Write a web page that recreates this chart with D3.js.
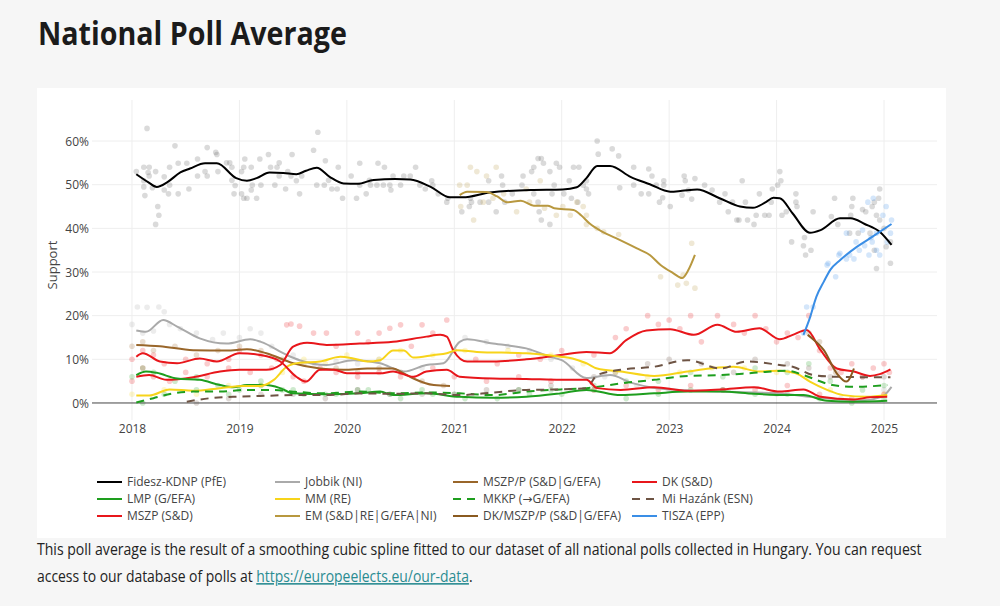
<!DOCTYPE html>
<html><head><meta charset="utf-8">
<script src="https://cdn.jsdelivr.net/npm/d3@7"></script>
<style>
html,body{margin:0;padding:0;background:#f6f6f6;}
svg{display:block;}
</style></head>
<body>
<svg id="chart" width="1000" height="606"></svg>
<script>
// ---------- DATA ----------
const yTicks = [0, 10, 20, 30, 40, 50, 60];
const xTicks = [2018, 2019, 2020, 2021, 2022, 2023, 2024, 2025];

const fideszLine = [[2018.04,52.4],[2018.15,50.6],[2018.23,49.5],[2018.33,50.6],[2018.45,52.8],[2018.54,53.7],[2018.68,54.9],[2018.79,54.9],[2018.97,51.5],[2019.07,50.9],[2019.16,51.5],[2019.28,52.8],[2019.41,52.7],[2019.53,52.4],[2019.62,53.2],[2019.72,53.9],[2019.84,51.8],[2019.97,50.3],[2020.1,50.2],[2020.25,51.1],[2020.45,51.3],[2020.59,51.2],[2020.78,49.5],[2020.96,47.1],[2021.08,47.1],[2021.33,48.2],[2021.71,48.8],[2022.01,48.9],[2022.14,49.4],[2022.23,51.5],[2022.33,54.3],[2022.45,54.3],[2022.64,51.8],[2022.82,50.1],[2023.01,48.4],[2023.12,48.6],[2023.26,48.9],[2023.47,46.9],[2023.66,45.0],[2023.78,44.7],[2023.9,46.0],[2023.97,47.0],[2024.03,46.9],[2024.15,43.4],[2024.31,39.0],[2024.41,39.6],[2024.59,42.3],[2024.69,42.3],[2024.82,41.0],[2024.96,39.2],[2025.07,36.2]];
const jobbikLine = [[2018.04,16.6],[2018.13,16.3],[2018.29,19.0],[2018.42,17.5],[2018.63,14.8],[2018.88,13.6],[2019.1,14.6],[2019.2,14.0],[2019.44,11.0],[2019.56,9.8],[2019.81,8.7],[2020.06,9.8],[2020.31,9.1],[2020.53,7.2],[2020.74,8.7],[2020.9,9.1],[2021.05,14.0],[2021.12,14.6],[2021.36,13.6],[2021.67,12.5],[2021.89,10.6],[2022.0,9.8],[2022.23,5.7],[2022.45,6.4],[2022.65,4.6],[2022.85,3.5],[2023.1,3.0],[2023.5,2.6],[2024.0,2.2],[2024.4,1.2],[2024.8,0.6],[2024.98,1.4],[2025.07,3.7]];
const mszpPLine = [[2018.04,13.3],[2018.26,13.0],[2018.57,12.1],[2018.88,12.0],[2019.07,12.3],[2019.25,11.4],[2019.5,9.1],[2019.75,7.9],[2019.97,7.6],[2020.19,7.9],[2020.43,7.9],[2020.5,7.2],[2020.62,5.6],[2020.81,4.1],[2020.96,3.9]];
const dkLine = [[2018.04,6.0],[2018.16,6.4],[2018.32,5.3],[2018.57,5.9],[2018.82,7.2],[2019.0,7.6],[2019.25,7.6],[2019.38,8.7],[2019.5,12.9],[2019.63,13.8],[2019.81,13.3],[2020.12,13.6],[2020.43,14.0],[2020.74,15.2],[2020.87,15.6],[2020.93,15.2],[2020.99,12.1],[2021.12,9.5],[2021.36,9.5],[2021.67,10.0],[2021.99,11.0],[2022.23,11.7],[2022.45,11.4],[2022.6,14.4],[2022.79,16.6],[2023.01,16.9],[2023.23,15.6],[2023.45,17.9],[2023.63,16.3],[2023.84,17.1],[2024.03,14.6],[2024.15,15.6],[2024.28,16.7],[2024.41,12.1],[2024.56,7.9],[2024.72,7.2],[2024.87,6.2],[2024.96,6.6],[2025.06,7.7]];
const lmpLine = [[2018.04,6.4],[2018.13,7.2],[2018.23,6.9],[2018.42,5.6],[2018.63,5.3],[2018.82,4.1],[2018.94,3.6],[2019.07,4.1],[2019.25,4.1],[2019.38,3.4],[2019.5,2.2],[2019.81,2.0],[2020.12,2.2],[2020.31,2.6],[2020.43,1.8],[2020.74,2.2],[2021.05,1.4],[2021.36,1.2],[2021.67,1.4],[2021.99,2.2],[2022.23,3.0],[2022.55,1.8],[2022.86,2.2],[2023.17,2.6],[2023.48,2.6],[2023.79,2.1],[2024.1,1.8],[2024.25,1.8],[2024.47,0.5],[2024.72,0.3],[2025.03,0.5]];
const mmLine = [[2018.04,1.7],[2018.16,1.7],[2018.35,3.1],[2018.57,2.8],[2018.82,3.4],[2019.04,3.9],[2019.19,3.9],[2019.32,5.3],[2019.44,8.3],[2019.56,9.2],[2019.75,9.5],[2019.94,10.6],[2020.06,10.2],[2020.19,9.5],[2020.31,9.8],[2020.43,12.0],[2020.53,12.0],[2020.62,10.4],[2020.81,11.0],[2020.93,11.4],[2021.02,12.1],[2021.21,11.7],[2021.67,11.4],[2021.99,10.6],[2022.1,10.2],[2022.23,9.1],[2022.33,7.9],[2022.55,7.2],[2022.86,6.2],[2023.17,7.2],[2023.38,7.9],[2023.6,8.3],[2023.84,7.2],[2024.03,7.4],[2024.18,6.8],[2024.31,4.9],[2024.47,3.0],[2024.62,1.8],[2024.84,1.4],[2025.03,1.8]];
const mkkpLine = [[2018.04,0.1],[2018.2,1.1],[2018.38,2.2],[2018.57,2.6],[2018.82,2.6],[2019.07,3.0],[2019.32,3.0],[2019.5,2.6],[2019.81,2.2],[2020.12,2.6],[2020.43,2.2],[2020.74,2.4],[2021.05,2.2],[2021.36,1.8],[2021.67,2.6],[2021.99,3.1],[2022.23,3.4],[2022.39,3.9],[2022.55,4.5],[2022.86,5.3],[2023.17,6.2],[2023.48,6.4],[2023.79,6.9],[2024.1,7.4],[2024.25,6.4],[2024.52,4.1],[2024.72,3.7],[2025.03,4.1]];
const miHazankLine = [[2018.51,0.3],[2018.73,1.1],[2018.94,1.4],[2019.19,1.6],[2019.5,1.8],[2019.81,1.8],[2020.12,2.2],[2020.43,2.1],[2020.74,2.2],[2021.05,1.8],[2021.36,2.4],[2021.67,3.0],[2021.99,3.1],[2022.23,3.4],[2022.33,6.4],[2022.55,7.6],[2022.86,8.3],[2023.17,9.8],[2023.48,7.9],[2023.72,9.5],[2024.03,8.7],[2024.15,8.3],[2024.34,6.4],[2024.56,6.0],[2024.87,5.9],[2025.06,5.9]];
const mszpLine = [[2018.04,10.6],[2018.1,11.4],[2018.26,9.5],[2018.42,9.1],[2018.63,10.2],[2018.79,9.5],[2019.0,11.4],[2019.19,11.0],[2019.38,9.5],[2019.53,6.0],[2019.62,4.9],[2019.75,7.6],[2019.88,7.6],[2020.0,6.8],[2020.31,6.8],[2020.43,7.2],[2020.62,6.0],[2020.74,7.2],[2020.93,7.6],[2021.05,6.0],[2021.36,5.6],[2021.67,5.5],[2021.99,5.3],[2022.23,5.3],[2022.33,3.4],[2022.55,3.0],[2022.86,3.6],[2023.17,2.8],[2023.48,3.1],[2023.79,3.6],[2024.03,2.6],[2024.25,3.1],[2024.41,1.4],[2024.72,0.8],[2024.87,1.3],[2025.03,1.4]];
const emLine = [[2021.05,47.6],[2021.12,48.4],[2021.3,48.3],[2021.4,47.3],[2021.49,46.0],[2021.62,46.3],[2021.74,45.2],[2021.87,45.2],[2021.93,44.6],[2022.11,44.2],[2022.18,43.0],[2022.26,41.1],[2022.38,39.2],[2022.5,37.8],[2022.7,35.4],[2022.82,33.9],[2022.92,31.6],[2023.04,29.7],[2023.12,28.6],[2023.18,30.5],[2023.24,33.9]];
const dkMszpPLine = [[2024.29,15.6],[2024.31,15.2],[2024.44,12.1],[2024.56,6.8],[2024.65,4.9],[2024.72,7.9]];
const tiszaLine = [[2024.25,15.6],[2024.31,19.5],[2024.37,24.3],[2024.44,27.8],[2024.5,30.5],[2024.59,32.7],[2024.75,35.8],[2024.9,38.2],[2025.07,41.0]];

// individual polls
const fideszPolls = [[2018.14,62.9],[2018.04,53.0],[2018.11,54.0],[2018.16,54.0],[2018.15,52.8],[2018.16,52.0],[2018.11,50.9],[2018.11,49.5],[2018.19,49.3],[2018.12,47.5],[2018.22,53.0],[2018.24,45.0],[2018.25,43.0],[2018.22,40.9],[2018.30,51.8],[2018.30,48.8],[2018.34,47.9],[2018.35,54.0],[2018.35,49.9],[2018.40,58.9],[2018.43,54.9],[2018.43,47.9],[2018.51,54.9],[2018.53,49.0],[2018.61,55.9],[2018.61,52.0],[2018.68,53.0],[2018.70,52.0],[2018.70,58.5],[2018.78,57.4],[2018.79,56.9],[2018.80,53.0],[2018.88,55.0],[2018.91,55.0],[2018.93,54.0],[2018.93,51.0],[2018.96,49.8],[2018.95,47.9],[2019.02,53.0],[2019.04,54.0],[2019.05,55.9],[2019.02,47.9],[2019.04,46.9],[2019.07,46.9],[2019.11,54.0],[2019.11,48.8],[2019.12,49.9],[2019.16,46.9],[2019.19,55.9],[2019.20,49.9],[2019.27,56.9],[2019.29,54.0],[2019.33,49.9],[2019.35,54.0],[2019.37,55.0],[2019.37,52.0],[2019.43,49.0],[2019.45,53.0],[2019.48,52.0],[2019.49,56.9],[2019.53,50.9],[2019.56,47.9],[2019.58,52.0],[2019.69,57.9],[2019.73,62.0],[2019.72,49.9],[2019.79,49.9],[2019.80,55.5],[2019.83,51.0],[2019.86,49.0],[2019.91,49.0],[2019.92,54.0],[2019.96,46.9],[2020.04,52.0],[2020.09,46.9],[2020.12,49.9],[2020.12,54.9],[2020.18,47.9],[2020.21,51.0],[2020.22,49.9],[2020.29,54.9],[2020.35,54.0],[2020.28,49.9],[2020.34,49.9],[2020.40,49.9],[2020.41,48.8],[2020.43,52.0],[2020.50,49.9],[2020.53,52.0],[2020.59,52.0],[2020.64,54.0],[2020.68,49.9],[2020.73,49.0],[2020.79,50.9],[2020.80,49.9],[2020.85,47.9],[2020.93,46.0],[2020.94,46.9],[2021.15,46.9],[2021.16,46.0],[2021.07,43.8],[2021.14,45.0],[2021.24,46.0],[2021.32,50.9],[2021.32,46.0],[2021.44,52.0],[2021.45,49.9],[2021.39,43.8],[2021.47,46.0],[2021.54,47.9],[2021.63,49.9],[2021.64,52.0],[2021.72,53.0],[2021.74,54.0],[2021.74,47.9],[2021.78,56.0],[2021.81,56.0],[2021.83,54.9],[2021.78,46.0],[2021.79,43.8],[2021.81,41.9],[2021.89,53.0],[2021.91,47.9],[2021.95,54.9],[2021.98,54.0],[2021.93,49.9],[2021.89,40.9],[2022.02,47.9],[2022.07,50.9],[2022.11,54.0],[2022.16,54.0],[2022.09,46.9],[2022.20,49.9],[2022.23,49.0],[2022.23,50.9],[2022.25,47.9],[2022.15,46.0],[2022.33,60.0],[2022.34,57.0],[2022.47,58.2],[2022.53,56.6],[2022.54,49.3],[2022.67,54.0],[2022.67,49.9],[2022.74,47.9],[2022.81,53.6],[2022.81,47.9],[2022.84,52.0],[2022.88,49.9],[2022.95,50.9],[2022.95,49.9],[2022.91,46.0],[2022.94,47.0],[2023.01,45.0],[2023.12,47.6],[2023.14,52.0],[2023.15,50.9],[2023.18,48.8],[2023.21,46.7],[2023.24,51.4],[2023.33,49.9],[2023.40,48.8],[2023.47,46.0],[2023.52,47.9],[2023.55,43.8],[2023.59,46.0],[2023.63,41.9],[2023.65,41.9],[2023.68,50.9],[2023.71,46.0],[2023.73,41.9],[2023.79,40.9],[2023.81,43.0],[2023.84,47.9],[2023.89,43.0],[2023.93,43.0],[2023.95,46.0],[2023.96,49.0],[2024.01,49.9],[2024.03,53.0],[2024.04,50.9],[2024.05,43.0],[2024.09,43.8],[2024.14,36.9],[2024.18,47.9],[2024.18,46.0],[2024.19,45.0],[2024.25,36.0],[2024.26,37.9],[2024.27,33.9],[2024.32,35.0],[2024.34,43.8],[2024.51,42.7],[2024.54,46.9],[2024.57,40.9],[2024.68,38.9],[2024.69,43.0],[2024.70,45.0],[2024.71,46.9],[2024.76,38.9],[2024.80,44.3],[2024.83,43.8],[2024.87,38.9],[2024.89,45.0],[2024.91,46.0],[2024.93,43.0],[2024.95,46.9],[2024.96,49.0],[2024.96,41.9],[2024.91,35.0],[2024.93,30.8],[2025.00,40.0],[2025.02,35.8],[2025.06,32.0],[2025.06,36.9]];
const tiszaPolls = [[2024.25,16.0],[2024.28,22.0],[2024.34,22.0],[2024.47,31.6],[2024.48,32.0],[2024.55,28.9],[2024.58,33.9],[2024.59,34.3],[2024.65,33.0],[2024.68,33.9],[2024.72,33.0],[2024.74,36.9],[2024.77,35.0],[2024.80,39.6],[2024.82,36.0],[2024.85,46.0],[2024.86,33.9],[2024.88,37.9],[2024.89,36.9],[2024.90,46.9],[2024.93,35.0],[2024.93,38.9],[2024.96,33.9],[2024.99,43.0],[2025.02,45.0],[2025.03,36.9],[2025.06,38.9],[2025.07,41.9],[2024.65,38.9]];
const emPolls = [[2021.05,49.9],[2021.15,54.0],[2021.21,53.0],[2021.30,52.0],[2021.39,54.0],[2021.12,49.9],[2021.06,45.0],[2021.18,41.9],[2021.27,46.0],[2021.36,46.9],[2021.46,47.9],[2021.58,43.8],[2021.67,49.0],[2021.70,46.0],[2021.80,50.9],[2021.84,44.6],[2021.95,43.0],[2022.01,45.0],[2022.08,43.0],[2022.14,46.0],[2022.20,45.0],[2022.23,43.0],[2022.23,40.9],[2022.33,40.0],[2022.39,39.2],[2022.53,38.6],[2022.92,28.9],[2023.08,27.0],[2023.21,36.6],[2023.16,27.4],[2023.24,26.3],[2023.13,29.3]];
const jobbikPolls = [[2018.0,18],[2018.05,22],[2018.1,16],[2018.14,21.9],[2018.2,16.5],[2018.25,22],[2018.3,20.9],[2018.35,18],[2018.45,17],[2018.6,16],[2018.75,14.5],[2018.85,16],[2019.0,15],[2019.1,17],[2019.2,16],[2019.3,13],[2019.5,11],[2019.7,9],[2019.9,9.5],[2020.1,9],[2020.3,10],[2020.5,7],[2020.7,8],[2021.1,15],[2021.3,14],[2021.5,13],[2021.7,12],[2021.9,10],[2022.1,8],[2022.4,6],[2022.7,4],[2023.0,3],[2023.5,3],[2024.0,2],[2024.6,1],[2025.0,3]];
const mszpPPolls = [[2018.0,13],[2018.1,14],[2018.2,12],[2018.4,13],[2018.6,11],[2018.8,12],[2019.0,13],[2019.2,12],[2019.4,10],[2019.6,9],[2019.9,8],[2020.1,7],[2020.3,8],[2020.5,7],[2020.7,5],[2020.9,4]];
const dkPolls = [[2018.0,5],[2018.1,8],[2018.2,6],[2018.35,5],[2018.5,7],[2018.7,6],[2018.9,8],[2019.1,7],[2019.3,8],[2019.44,17.9],[2019.48,18.1],[2019.56,17.6],[2019.69,16],[2019.81,16],[2019.9,13],[2020.1,16],[2020.2,14],[2020.3,16],[2020.4,17.1],[2020.5,17.9],[2020.6,13],[2020.7,17.9],[2020.8,16],[2020.93,19],[2021.0,12],[2021.2,10],[2021.4,9],[2021.6,11],[2021.8,10],[2022.0,12],[2022.3,11],[2022.5,15],[2022.6,17],[2022.8,20],[2022.9,18],[2023.0,19],[2023.1,17],[2023.2,20],[2023.3,14],[2023.45,20],[2023.6,18],[2023.7,16],[2023.8,20],[2023.9,17],[2024.0,14],[2024.1,16],[2024.2,15],[2024.3,20],[2024.4,12],[2024.5,8],[2024.6,7],[2024.7,9],[2024.8,6],[2024.9,8],[2025.0,9],[2025.05,7]];
const mszpPolls = [[2018.0,10],[2018.1,12],[2018.2,11],[2018.3,9],[2018.5,10],[2018.7,9],[2018.9,10],[2019.0,12],[2019.2,11],[2019.35,10],[2019.5,6],[2019.6,5],[2019.75,8],[2019.9,7],[2020.1,6],[2020.3,7],[2020.5,6],[2020.8,8],[2021.0,6],[2021.3,5],[2021.6,6],[2021.9,5],[2022.3,3],[2022.6,4],[2022.9,3],[2023.2,4],[2023.5,3],[2023.8,3],[2024.1,4],[2024.4,2],[2024.7,1],[2025.0,2]];
const mmPolls = [[2018.0,2],[2018.3,3],[2018.6,2],[2018.9,4],[2019.2,4],[2019.4,7],[2019.6,10],[2019.8,9],[2020.0,11],[2020.3,10],[2020.5,12],[2020.8,11],[2021.1,12],[2021.5,12],[2021.9,11],[2022.2,9],[2022.5,7],[2022.8,6],[2023.1,7],[2023.4,8],[2023.7,8],[2024.0,7],[2024.3,6],[2024.5,3],[2024.8,1],[2025.0,2]];
const lmpPolls = [[2018.0,6],[2018.1,8],[2018.2,7],[2018.4,5],[2018.6,6],[2018.8,4],[2019.0,3],[2019.2,5],[2019.4,3],[2019.6,2],[2019.9,2],[2020.2,3],[2020.5,1],[2020.8,2],[2021.1,1],[2021.4,1],[2021.7,2],[2022.0,2],[2022.3,3],[2022.6,1],[2022.9,2],[2023.2,3],[2023.5,3],[2023.8,2],[2024.1,2],[2024.4,1],[2024.7,0],[2025.0,1]];
const mkkpPolls = [[2018.1,0],[2018.3,2],[2018.6,3],[2018.9,2],[2019.2,4],[2019.5,3],[2019.8,2],[2020.1,3],[2020.4,2],[2020.7,3],[2021.0,2],[2021.3,2],[2021.6,3],[2021.9,3],[2022.3,4],[2022.6,5],[2022.9,5],[2023.2,7],[2023.5,6],[2023.8,8],[2024.1,7],[2024.3,9],[2024.5,5],[2024.8,3],[2025.0,4]];
const miHazankPolls = [[2018.6,0],[2018.9,1],[2019.2,2],[2019.5,2],[2019.8,1],[2020.1,3],[2020.4,2],[2020.7,2],[2021.0,2],[2021.3,3],[2021.6,3],[2021.9,4],[2022.3,6],[2022.5,7],[2022.8,9],[2023.0,10],[2023.3,9],[2023.6,7],[2023.8,10],[2024.1,9],[2024.3,8],[2024.5,6],[2024.8,6],[2025.0,6]];
const dkMszpPPolls = [[2024.3,16],[2024.4,14],[2024.55,7]];

const parties = [
  {name:"Fidesz-KDNP (PfE)", color:"#000000", dash:null, line:fideszLine, polls:fideszPolls},
  {name:"Jobbik (NI)", color:"#aaaaaa", dash:null, line:jobbikLine, polls:jobbikPolls},
  {name:"MSZP/P (S&D|G/EFA)", color:"#99662a", dash:null, line:mszpPLine, polls:mszpPPolls},
  {name:"DK (S&D)", color:"#e8161b", dash:null, line:dkLine, polls:dkPolls},
  {name:"LMP (G/EFA)", color:"#1e9e1e", dash:null, line:lmpLine, polls:lmpPolls},
  {name:"MM (RE)", color:"#f7d41a", dash:null, line:mmLine, polls:mmPolls},
  {name:"MKKP (\u2192G/EFA)", color:"#1e9e1e", dash:"8,6", line:mkkpLine, polls:mkkpPolls},
  {name:"Mi Hazánk (ESN)", color:"#6e5444", dash:"8,6", line:miHazankLine, polls:miHazankPolls},
  {name:"MSZP (S&D)", color:"#e8161b", dash:null, line:mszpLine, polls:mszpPolls},
  {name:"EM (S&D|RE|G/EFA|NI)", color:"#b8983f", dash:null, line:emLine, polls:emPolls},
  {name:"DK/MSZP/P (S&D|G/EFA)", color:"#8a5a20", dash:null, line:dkMszpPLine, polls:dkMszpPPolls},
  {name:"TISZA (EPP)", color:"#3a8ee6", dash:null, line:tiszaLine, polls:tiszaPolls}
];

// ---------- DRAW ----------
const svg = d3.select("#chart");
const tickFont = "'Open Sans', 'DejaVu Sans', sans-serif";
const bodyFont = "'Open Sans', 'DejaVu Sans', sans-serif";

// helper: horizontally condense a text group to a target width (narrow web font not available)
function fitWidth(group, left, target) {
  const w = group.node().getBBox().width;
  const s = w > 0 ? target / w : 1;
  group.attr("transform", `translate(${left},0) scale(${s},1)`);
}

svg.append("rect").attr("width",1000).attr("height",606).attr("fill","#f6f6f6");
const titleG = svg.append("g");
titleG.append("text").attr("x",0).attr("y",45)
  .attr("font-family",bodyFont).attr("font-weight","bold").attr("font-size",32)
  .attr("fill","#1b1b1b").text("National Poll Average");
fitWidth(titleG, 38, 309);
svg.append("rect").attr("x",37).attr("y",88).attr("width",909).attr("height",450).attr("fill","#ffffff");

const x = d3.scaleLinear().domain([2017.6277, 2025.4933]).range([92, 937]);
const y = d3.scaleLinear().domain([-3.9, 69.4]).range([420, 100]);

const g = svg.append("g");
// grid
g.selectAll(".vg").data(xTicks).join("line")
  .attr("x1",d=>x(d)).attr("x2",d=>x(d)).attr("y1",100).attr("y2",420)
  .attr("stroke","#eeeeee").attr("stroke-width",1);
g.selectAll(".hg").data(yTicks.filter(d=>d>0)).join("line")
  .attr("x1",92).attr("x2",937).attr("y1",d=>y(d)).attr("y2",d=>y(d))
  .attr("stroke","#eeeeee").attr("stroke-width",1);

// axes (labels only)
const yAxis = d3.axisLeft(y).tickValues(yTicks).tickFormat(d=>d+"%").tickSize(0).tickPadding(0);
const ya = g.append("g").attr("transform","translate(89,0)").call(yAxis);
ya.select(".domain").remove();
ya.selectAll("text").attr("font-family",tickFont).attr("font-size",12).attr("fill","#444").attr("dy","0.35em");

const xAxis = d3.axisBottom(x).tickValues(xTicks).tickFormat(d3.format("d")).tickSize(0).tickPadding(0);
const xa = g.append("g").attr("transform","translate(0,424)").call(xAxis);
xa.select(".domain").remove();
xa.selectAll("text").attr("font-family",tickFont).attr("font-size",12).attr("fill","#444").attr("dy","0.71em");

g.append("text").attr("transform","translate(57,265) rotate(-90)").attr("text-anchor","middle")
  .attr("font-family",tickFont).attr("font-size",13).attr("fill","#444").text("Support");

// poll dots
parties.forEach(p => {
  const fill = p.name.startsWith("Fidesz") ? "#555" : p.color;
  g.append("g").selectAll("circle").data(p.polls).join("circle")
    .attr("cx",d=>x(d[0])).attr("cy",d=>y(d[1])).attr("r",2.8)
    .attr("fill",fill).attr("fill-opacity",0.22);
});

// zero line
g.append("line").attr("x1",92).attr("x2",937).attr("y1",y(0)).attr("y2",y(0))
  .attr("stroke","#444").attr("stroke-width",1);

// lines
const lineGen = d3.line().x(d=>x(d[0])).y(d=>y(d[1])).curve(d3.curveMonotoneX);
parties.forEach(p => {
  g.append("path").datum(p.line).attr("d",lineGen).attr("fill","none")
    .attr("stroke",p.color).attr("stroke-width",2)
    .attr("stroke-dasharray",p.dash).attr("stroke-linejoin","round");
});

// legend
const colX = [97, 275, 453, 632];
const rowY = [482, 499, 516];
const lg = svg.append("g");
parties.forEach((p,i) => {
  const cx = colX[i%4], cy = rowY[Math.floor(i/4)];
  lg.append("line").attr("x1",cx).attr("x2",cx+25).attr("y1",cy).attr("y2",cy)
    .attr("stroke",p.color).attr("stroke-width",2).attr("stroke-dasharray",p.dash);
  lg.append("text").attr("x",cx+30).attr("y",cy).attr("dy","0.35em")
    .attr("font-family",tickFont).attr("font-size",12).attr("fill","#444").text(p.name);
});

// footer (two lines, condensed to the original line widths)
const f1 = svg.append("g");
f1.append("text").attr("x",0).attr("y",555).attr("font-family",bodyFont).attr("font-size",16).attr("fill","#222")
  .text("This poll average is the result of a smoothing cubic spline fitted to our dataset of all national polls collected in Hungary. You can request");
fitWidth(f1, 37, 886);
const f2 = svg.append("g");
const t2 = f2.append("text").attr("x",0).attr("y",582).attr("font-family",bodyFont).attr("font-size",16).attr("fill","#222");
t2.append("tspan").text("access to our database of polls at ");
t2.append("tspan").attr("fill","#2a8c92").attr("text-decoration","underline").text("https://europeelects.eu/our-data");
t2.append("tspan").text(".");
fitWidth(f2, 37, 436);
</script>
</body></html>
